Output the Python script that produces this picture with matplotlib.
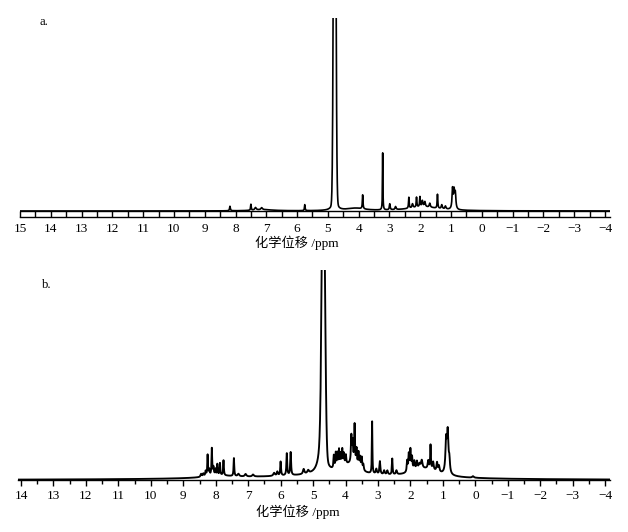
import matplotlib.pyplot as plt
import numpy as np
from matplotlib.ticker import MultipleLocator

plt.rcParams['font.family'] = ['Liberation Serif', 'Noto Sans CJK SC']
plt.rcParams['axes.unicode_minus'] = True

# peak tables: position (ppm), height (arb.), half width (ppm)
# spectrum a
a_ppm = [8.18, 7.50, 7.35, 7.15, 5.75, 3.87, 3.22, 2.99, 2.80, 2.37, 2.25, 2.12,
         2.01, 1.93, 1.85, 1.69, 1.44, 1.30, 1.18, 0.95, 0.90, 0.86]
a_height = [4.5, 6.0, 2.5, 2.0, 6.0, 14.0, 57.0, 6.0, 3.0, 11.0, 4.0, 10.0,
            10.0, 6.0, 5.0, 4.0, 14.0, 4.0, 3.0, 20.0, 17.0, 15.0]
a_width = [0.015, 0.012, 0.03, 0.03, 0.012, 0.012, 0.008, 0.015, 0.02, 0.012, 0.02, 0.012,
           0.012, 0.02, 0.02, 0.02, 0.012, 0.02, 0.02, 0.02, 0.02, 0.02]
a_broad_ppm = [4.1, 1.9, 7.1, 4.78]
a_broad_height = [2.5, 4.0, 1.2, 20.0]
a_broad_width = [0.35, 0.6, 0.4, 0.06]
a_water = (4.78, 600.0, 0.033)

# spectrum b
b_ppm = [8.45, 8.38, 8.31, 8.25, 8.20, 8.12, 8.07, 8.01, 7.95, 7.87, 7.76, 7.44, 7.30,
         7.08, 6.85, 6.20, 6.10, 6.00, 5.81, 5.69, 5.29, 5.15,
         4.36, 4.30, 4.25, 4.20, 4.15, 4.10, 4.05, 3.99, 3.82, 3.78, 3.72, 3.66,
         3.60, 3.55, 3.50, 3.45, 3.18, 3.05, 2.94, 2.81, 2.71, 2.56, 2.43,
         2.10, 2.05, 2.00, 1.95, 1.88, 1.80, 1.72, 1.65, 1.45, 1.38, 1.30, 1.18, 1.12,
         0.90, 0.85, 0.80, 0.07]
b_height = [3.0, 3.0, 5.0, 21.0, 6.0, 27.0, 8.0, 6.0, 11.0, 12.0, 15.0, 18.0, 2.5,
            2.5, 2.0, 3.0, 4.0, 14.0, 22.0, 23.0, 5.0, 3.0,
            13.0, 15.0, 14.0, 17.0, 12.0, 16.0, 11.0, 9.0, 27.0, 21.0, 40.0, 17.0,
            15.0, 11.0, 12.0, 6.0, 52.0, 5.0, 13.0, 4.0, 4.0, 16.0, 4.0,
            11.0, 17.0, 21.0, 13.0, 9.0, 8.0, 5.0, 8.0, 8.0, 24.0, 8.0, 9.0, 6.0,
            32.0, 40.0, 12.0, 1.5]
b_width = [0.02, 0.02, 0.015, 0.012, 0.015, 0.012, 0.015, 0.012, 0.012, 0.012, 0.012, 0.012,
           0.03, 0.03, 0.03, 0.03, 0.02, 0.014, 0.014, 0.014, 0.025, 0.03,
           0.014, 0.014, 0.014, 0.014, 0.014, 0.014, 0.014, 0.014, 0.016, 0.016, 0.014,
           0.016, 0.016, 0.016, 0.016, 0.016, 0.009, 0.02, 0.016, 0.02, 0.02, 0.012,
           0.02, 0.016, 0.016, 0.016, 0.016, 0.02, 0.02, 0.03, 0.025, 0.02, 0.012,
           0.02, 0.02, 0.02, 0.025, 0.025, 0.02, 0.03]
b_broad_ppm = [4.7, 3.9, 1.55, 7.9, 4.72]
b_broad_height = [4.0, 11.0, 9.0, 2.5, 60.0]
b_broad_width = [3.0, 0.35, 0.5, 0.5, 0.08]
b_water = (4.68, 300.0, 0.045)


def lorentz(x, pos, h, w):
    y = np.zeros_like(x)
    for p, hh, ww in zip(pos, h, w):
        y += hh * ww**2 / ((x - p)**2 + ww**2)
    return y


def spectrum(x, pos, h, w, bpos, bh, bw, water):
    y = lorentz(x, pos, h, w) + lorentz(x, bpos, bh, bw)
    y += water[1] * np.exp(-(x - water[0])**2 / (2 * water[2]**2))
    return y


W, H = 628, 532
fig = plt.figure(figsize=(W / 100, H / 100), dpi=100)


def pix_axes(x0, x1, ytop, ybot):
    return fig.add_axes([x0 / W, 1 - ybot / H, (x1 - x0) / W, (ybot - ytop) / H])


def tick_text(v):
    return '%d' % v if v >= 0 else '\u2212%d' % (-v)


# ---- panel a
xa = np.linspace(-4.2, 15.0, 12000)
ya = spectrum(xa, a_ppm, a_height, a_width, a_broad_ppm, a_broad_height,
              a_broad_width, a_water)
ax1 = pix_axes(20, 609.6, 18, 217)
ax1.plot(xa, ya, color='black', lw=1.2)
ax1.axhline(0, color='black', lw=1.0)
ax1.set_xlim(15, -4.15)
ax1.set_ylim(-6, 193)
ticks_a = np.arange(15, -5, -1)
ax1.set_xticks(ticks_a)
ax1.set_xticklabels([tick_text(v) for v in ticks_a])
ax1.xaxis.set_minor_locator(MultipleLocator(0.5))
ax1.tick_params(axis='x', which='both', direction='in', length=4.3, width=1.0, pad=4.5,
                labelsize=9.5)
ax1.set_yticks([])
for s in ['top', 'left', 'right']:
    ax1.spines[s].set_visible(False)
ax1.spines['bottom'].set_linewidth(1.0)
ax1.text(20 / 589.6, 0.98, 'a.', transform=ax1.transAxes, fontsize=9, va='center')
fig.text(297 / W, 1 - 243 / H, '化学位移 /ppm', ha='center', va='center', fontsize=9.5)

# ---- panel b
xb = np.linspace(-4.2, 14.1, 12000)
yb = spectrum(xb, b_ppm, b_height, b_width, b_broad_ppm, b_broad_height,
              b_broad_width, b_water)
ax2 = pix_axes(17.8, 610, 270, 480)
ax2.plot(xb, yb, color='black', lw=1.35)
ax2.set_xlim(14.1, -4.15)
ax2.set_ylim(0, 210)
ticks_b = np.arange(14, -5, -1)
ax2.set_xticks(ticks_b)
ax2.set_xticklabels([tick_text(v) for v in ticks_b])
ax2.xaxis.set_minor_locator(MultipleLocator(0.5))
ax2.tick_params(axis='x', which='major', direction='out', length=4.0, width=1.0, pad=3.5,
                labelsize=9.5)
ax2.tick_params(axis='x', which='minor', direction='out', length=2.8, width=1.0)
ax2.set_yticks([])
for s in ['top', 'left', 'right']:
    ax2.spines[s].set_visible(False)
ax2.spines['bottom'].set_linewidth(1.0)
ax2.text((42 - 17.8) / 592.2, 0.93, 'b.', transform=ax2.transAxes, fontsize=9,
         va='center')
fig.text(298 / W, 1 - 512 / H, '化学位移 /ppm', ha='center', va='center', fontsize=9.5)

fig.savefig('out.png', dpi=100)
